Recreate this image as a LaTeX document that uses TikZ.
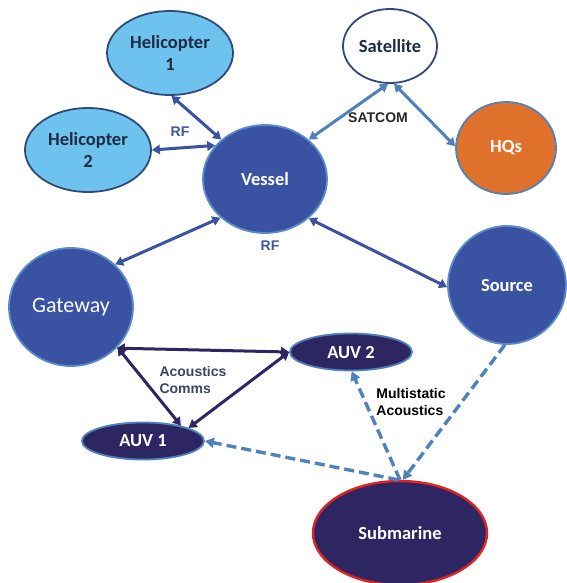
\documentclass[tikz,border=0pt]{standalone}
\usepackage{fontspec}
\setmainfont{Carlito}
\newfontfamily\labfont{Liberation Sans}
\usetikzlibrary{arrows.meta,shapes.geometric}
\definecolor{heliblue}{HTML}{6DC3EE}
\definecolor{heliedge}{HTML}{2F4A7A}
\definecolor{royal}{HTML}{3A52A2}
\definecolor{royaledge}{HTML}{5A8CCB}
\definecolor{steel}{HTML}{4F81BD}
\definecolor{navy}{HTML}{2D2663}
\definecolor{orangehq}{HTML}{E0712B}
\definecolor{darktext}{HTML}{1F2A44}
\definecolor{rfblue}{HTML}{3F55A5}
\definecolor{slate}{HTML}{3B4466}
\definecolor{subred}{HTML}{E32222}
\begin{document}
\begin{tikzpicture}[x=1pt,y=-1pt,
  ell/.style={ellipse, inner sep=0pt, line width=1.8pt, align=center,
    font=\fontsize{18.5}{22}\selectfont\bfseries},
  heli/.style={ell, fill=heliblue, draw=heliedge, text=darktext,
    minimum width=126pt, minimum height=84pt},
  bignode/.style={ell, fill=royal, draw=royaledge, text=white},
  auv/.style={ell, fill=navy, draw=steel, text=white,
    minimum width=122pt, minimum height=37pt},
  rfarrow/.style={{Triangle[length=8pt,width=9.5pt]}-{Triangle[length=8pt,width=9.5pt]}, line width=3pt, draw=royal},
  satarrow/.style={rfarrow, draw=steel},
  acarrow/.style={rfarrow, draw=navy},
  dasharrow/.style={-{Triangle[length=9pt,width=10pt]}, line width=3.4pt, draw=steel, dash pattern=on 10pt off 5pt},
  lab/.style={font=\labfont\fontsize{14}{16.5}\selectfont\bfseries, align=left, inner sep=0pt}
]
\useasboundingbox (0,0) rectangle (566,583);

% nodes
\node[heli] (h1) at (170,53) {Helicopter\\1};
\node[heli] (h2) at (88,150) {Helicopter\\2};
\node[bignode, minimum width=124pt, minimum height=108pt] (v) at (265,179) {Vessel};
\node[ell, fill=white, draw=heliedge, text=darktext, minimum width=94pt, minimum height=74pt] (sat) at (390,46) {Satellite};
\node[ell, fill=orangehq, draw=steel, text=white, minimum width=100pt, minimum height=92pt] (hq) at (506,148) {HQs};
\node[bignode, minimum width=124pt, minimum height=118pt, font=\fontsize{22}{24}\selectfont] (gw) at (71,307) {Gateway};
\node[bignode, minimum width=118pt, minimum height=118pt] (src) at (507,285) {Source};
\node[auv] (a2) at (351,352) {AUV 2};
\node[auv] (a1) at (143,441) {AUV 1};
\node[ell, fill=navy, draw=subred, line width=2.4pt, text=white, minimum width=174pt, minimum height=104pt] (sub) at (400,533) {Submarine};

% RF links
\draw[rfarrow] (h1.-88) -- (v.138);
\draw[rfarrow] (h2.east) -- (v.146);
\draw[rfarrow] (v.221) -- (gw.44);
\draw[rfarrow] (v.-42) -- (src.182);

% SATCOM links
\draw[satarrow] (v.42) -- (sat.-93);
\draw[satarrow] (sat.-84) -- (hq.178);

% acoustic comms
\draw[acarrow] (gw.-42) -- (a2.west);
\draw[acarrow] (gw.-41) -- (a1.22);
\draw[acarrow] (a2.west) -- (a1.16);

% multistatic
\draw[dasharrow] (src.-92) -- (sub.87);
\draw[dasharrow] (sub.90) -- (a2.-88);
\draw[dasharrow] (sub.92) -- (a1.east);

% labels
\node[lab, text=rfblue] (rf1) at (180,132) {RF};
\node[lab, text=rfblue] (rf2) at (270,246) {RF};
\node[lab, text=black!85] (satcom) at (378,118) {SATCOM};
\node[lab, text=slate] (ac) at (193,380) {Acoustics\\Comms};
\node[lab, text=black] (ms) at (411,402) {Multistatic\\Acoustics};
\end{tikzpicture}
\end{document}
